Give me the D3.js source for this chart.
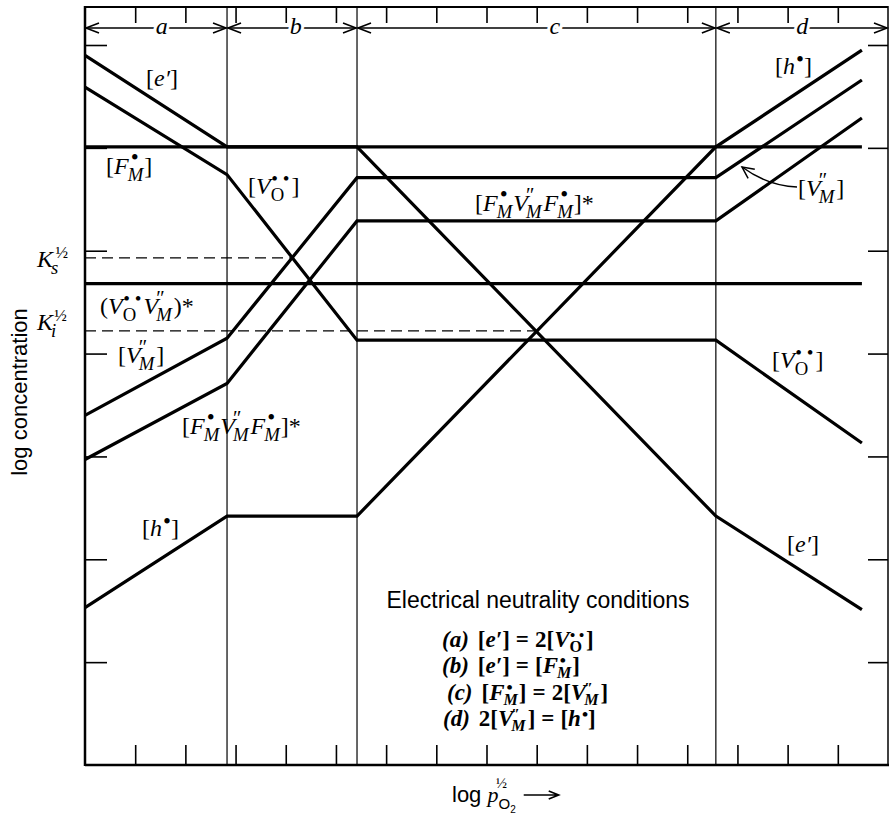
<!DOCTYPE html>
<html>
<head>
<meta charset="utf-8">
<script src="https://cdn.jsdelivr.net/npm/d3@7"></script>
<style>
  body { margin: 0; background: #fff; }
  svg { display: block; }
</style>
</head>
<body>
<svg id="chart" width="890" height="822"></svg>
<script>
// Defect concentrations versus oxygen partial pressure (Brouwer-style diagram)

// axis ticks (log units)
const xTicks = [1, 2, 3, 4, 5, 6, 7, 8, 9, 10, 11, 12, 13, 14, 15];
const yTicks = [1, 2, 3, 4, 5, 6, 7];

// neutrality regions along log pO2^1/2
const regionEdges = [0, 2.83, 5.42, 12.57, 16];
const regionNames = ["a", "b", "c", "d"];
const regionLabelX = [1.53, 4.2, 9.36, 14.29];

// break points of every species line, and its log concentration there
const xKnots = [0, 2.83, 5.42, 12.57, 15.48];
const electrons = [6.90, 6.01, 6.01, 2.42, 1.51];
const oxygenVac = [6.59, 5.74, 4.13, 4.13, 3.13];
const metalVac = [3.40, 4.15, 5.71, 5.71, 6.66];
const triplet = [2.97, 3.71, 5.29, 5.29, 6.29];
const holes = [1.53, 2.42, 2.42, 6.01, 6.95];
const donors = [6.01, 6.01, 6.01, 6.01, 6.01];
const vacPair = [4.68, 4.68, 4.68, 4.68, 4.68];

// equilibrium-constant reference levels (dashed)
const ksLevel = 4.93, ksEnd = 4.08;
const kiLevel = 4.22, kiEnd = 9.0;

const serif = "'Liberation Serif','Times New Roman',serif";
const sans = "'Liberation Sans',Arial,sans-serif";

const svg = d3.select("#chart");
const L = 85, R = 888, T = 7, B = 765;

const x = d3.scaleLinear().domain([0, 16]).range([L, R]);
const y = d3.scaleLinear().domain([0, 7]).range([B, 45]);

// frame
svg.append("line").attr("x1", L).attr("x2", R).attr("y1", T).attr("y2", T)
  .attr("stroke", "#000").attr("stroke-width", 2);
svg.append("line").attr("x1", L).attr("x2", R + 1).attr("y1", B).attr("y2", B)
  .attr("stroke", "#000").attr("stroke-width", 2.5);
svg.append("line").attr("x1", L).attr("x2", L).attr("y1", T - 1).attr("y2", B + 1)
  .attr("stroke", "#000").attr("stroke-width", 2.5);
svg.append("line").attr("x1", R).attr("x2", R).attr("y1", T - 1).attr("y2", B + 1)
  .attr("stroke", "#000").attr("stroke-width", 1.5);

// inward ticks on all four sides
function ticks(axis, tf) {
  const g = svg.append("g").attr("transform", tf).call(axis);
  g.select(".domain").remove();
  g.selectAll(".tick line").attr("stroke", "#000").attr("stroke-width", 1.6);
  g.selectAll(".tick text").remove();
}
ticks(d3.axisTop(x).tickValues(xTicks).tickSize(-16).tickSizeOuter(0), `translate(0,${T})`);
ticks(d3.axisBottom(x).tickValues(xTicks).tickSize(-20).tickSizeOuter(0), `translate(0,${B})`);
ticks(d3.axisLeft(y).tickValues(yTicks).tickSize(-22).tickSizeOuter(0), `translate(${L},0)`);
ticks(d3.axisRight(y).tickValues(yTicks).tickSize(-20).tickSizeOuter(0), `translate(${R},0)`);

// region dividers
svg.selectAll("line.div").data(regionEdges.slice(1, -1)).join("line")
  .attr("class", "div")
  .attr("x1", d => x(d)).attr("x2", d => x(d)).attr("y1", T).attr("y2", B)
  .attr("stroke", "#000").attr("stroke-width", 1.2);

// region arrows along the top
const ay = 28;
function head(px, dir) {
  return `M${px - dir * 13},${ay - 5}L${px},${ay}L${px - dir * 13},${ay + 5}`;
}
regionNames.forEach((n, i) => {
  const x0 = x(regionEdges[i]) + 1, x1 = x(regionEdges[i + 1]) - 1;
  svg.append("line").attr("x1", x0).attr("x2", x1).attr("y1", ay).attr("y2", ay)
    .attr("stroke", "#000").attr("stroke-width", 1.3);
  svg.append("path").attr("d", head(x0, -1) + head(x1, 1))
    .attr("fill", "none").attr("stroke", "#000").attr("stroke-width", 1.6);
  svg.append("text").attr("x", x(regionLabelX[i])).attr("y", 34)
    .attr("text-anchor", "middle").attr("font-family", serif)
    .attr("font-style", "italic").attr("font-size", 24)
    .attr("stroke", "#fff").attr("stroke-width", 6).attr("paint-order", "stroke")
    .text(n);
});

// dashed reference levels
[[ksLevel, ksEnd], [kiLevel, kiEnd]].forEach(([lv, end]) => {
  svg.append("line").attr("x1", x(0)).attr("x2", x(end))
    .attr("y1", y(lv)).attr("y2", y(lv))
    .attr("stroke", "#000").attr("stroke-width", 1.3)
    .attr("stroke-dasharray", "11,6");
});

// species lines
const line = d3.line().x((d, i) => x(xKnots[i])).y(d => y(d));
[electrons, oxygenVac, metalVac, triplet, holes, donors, vacPair].forEach(s => {
  svg.append("path").attr("d", line(s)).attr("fill", "none")
    .attr("stroke", "#000").attr("stroke-width", 3.2)
    .attr("stroke-linejoin", "miter");
});

// text with italics, superscripts, gaps and stacked sub/superscripts
function rich(gx, gy, parts, size, opts = {}) {
  const subShift = opts.subShift || 0.3, supShift = opts.supShift || 0.36;
  const subScale = opts.subScale || 0.78;
  const t = svg.append("text").attr("x", gx).attr("y", gy)
    .attr("font-family", serif).attr("font-size", size)
    .attr("text-anchor", opts.anchor || "start")
    .attr("font-weight", opts.weight || "normal").attr("fill", "#000");
  let cur = 0, pend = 0;
  const add = (txt, o) => {
    const s = o.shift || 0;
    const ts = t.append("tspan").text(txt)
      .attr("font-style", o.it ? "italic" : "normal")
      .attr("font-size", size * (o.scale || 1))
      .attr("dy", s - cur)
      .attr("dx", (o.dx || 0) + pend);
    pend = 0; cur = s;
    return ts;
  };
  parts.forEach(p => {
    if (typeof p === "string") add(p, {});
    else if (p.gap !== undefined) pend += p.gap;
    else if (p.i) add(p.i, { it: true });
    else if (p.sup) add(p.sup, { shift: -size * 0.28, scale: 0.95 * (opts.supMul || 1), dx: 1 });
    else if (p.stack) {
      const [sup, sub, subIt, off] = p.stack;
      const a = add(sub, { it: subIt, shift: size * subShift, scale: subScale, dx: p.dx || 0 });
      const w = a.node().getComputedTextLength();
      const b = add(sup, {
        shift: -size * supShift, scale: (p.supScale || 0.85) * (opts.supMul || 1),
        dx: -w + w * off
      });
      const ws = b.node().getComputedTextLength();
      pend = Math.max(0, w - w * off - ws) + (p.after || 1);
    }
  });
  return t;
}

const FM = { stack: ["•", "M", true, 0.2], dx: -1, supScale: 0.95 };
const VMs = { stack: ["″", "M", true, 0.0], dx: -2, after: 2 };
const VOs = { stack: ["• •", "O", false, 0.05], dx: 0, supScale: 0.8, after: 2 };

// line labels
const LS = 24;
rich(146, 86, ["[", { i: "e′" }, "]"], LS);
rich(106, 174, ["[", { i: "F" }, FM, "]"], LS);
rich(248, 194, ["[", { i: "V" }, VOs, "]"], LS);
rich(475, 211, ["[", { i: "F" }, FM, { i: "V" }, VMs, { i: "F" }, FM, "]*"], LS);
rich(798, 196, ["[", { i: "V" }, VMs, "]"], LS);
rich(100, 314, ["(", { i: "V" }, VOs, { i: "V" }, VMs, ")*"], LS);
rich(118, 363, ["[", { i: "V" }, VMs, "]"], LS);
rich(182, 434, ["[", { i: "F" }, FM, { i: "V" }, VMs, { i: "F" }, FM, "]*"], LS);
rich(142, 536, ["[", { i: "h" }, { sup: "•" }, "]"], LS);
rich(775, 74, ["[", { i: "h" }, { sup: "•" }, "]"], LS);
rich(772, 368, ["[", { i: "V" }, VOs, "]"], LS);
rich(787, 552, ["[", { i: "e′" }, "]"], LS);

// equilibrium constants on the left
rich(37, 267, [{ i: "K" }, { stack: ["½", "s", true, 0.6], dx: -2, supScale: 0.7 }], 24);
rich(37, 330, [{ i: "K" }, { stack: ["½", "i", true, 0.6], dx: -2, supScale: 0.7 }], 24);

// pointer from the right-hand [V″M] label to its line
const ptr = d3.path();
ptr.moveTo(797, 187); ptr.quadraticCurveTo(768, 186, 742, 167);
svg.append("path").attr("d", ptr.toString()).attr("fill", "none")
  .attr("stroke", "#000").attr("stroke-width", 1.5);
(() => {
  const ang = Math.atan2(167 - 186, 742 - 768);
  const hd = [0.45, -0.45].map(da => [742 - 13 * Math.cos(ang + da), 167 - 13 * Math.sin(ang + da)]);
  svg.append("path").attr("d", `M${hd[0]}L742,167L${hd[1]}`)
    .attr("fill", "none").attr("stroke", "#000").attr("stroke-width", 1.5);
})();

// neutrality conditions
svg.append("text").attr("x", 538).attr("y", 608).attr("text-anchor", "middle")
  .attr("font-family", sans).attr("font-size", 23).text("Electrical neutrality conditions");
const g1 = { gap: 9 }, g2 = { gap: 6 };
const cond = [
  [442, 647, [{ i: "(a)" }, g1, "[", { i: "e′" }, "]", g2, "=", g2, "2[", { i: "V" }, VOs, "]"]],
  [442, 673, [{ i: "(b)" }, g1, "[", { i: "e′" }, "]", g2, "=", g2, "[", { i: "F" }, FM, "]"]],
  [447, 700, [{ i: "(c)" }, g1, "[", { i: "F" }, FM, "]", g2, "=", g2, "2[", { i: "V" }, VMs, "]"]],
  [443, 726, [{ i: "(d)" }, g1, "2[", { i: "V" }, VMs, "]", g2, "=", g2, "[", { i: "h" }, { sup: "•" }, "]"]]
];
cond.forEach(([cx, cy, p]) => rich(cx, cy, p, 23, {
  weight: "bold", subShift: 0.2, supShift: 0.3, subScale: 0.7, supMul: 0.8
}));

// axis titles
svg.append("text").attr("transform", "translate(27,392) rotate(-90)")
  .attr("text-anchor", "middle").attr("font-family", sans).attr("font-size", 22)
  .text("log concentration");

const xt = svg.append("text").attr("x", 452).attr("y", 802)
  .attr("font-family", sans).attr("font-size", 22);
xt.append("tspan").text("log ");
xt.append("tspan").attr("font-family", serif).attr("font-style", "italic").text("p");
xt.append("tspan").attr("font-size", 15).attr("dy", 7).text("O");
xt.append("tspan").attr("font-size", 10).attr("dy", 4).text("2");
const w2 = xt.node().getComputedTextLength();
xt.append("tspan").attr("font-family", serif).attr("font-size", 15)
  .attr("dx", -20).attr("dy", -25).text("½");
const xe = 452 + w2 + 8;
svg.append("path").attr("d", `M${xe},795H${xe + 34}M${xe + 25},791L${xe + 35},795L${xe + 25},799`)
  .attr("fill", "none").attr("stroke", "#000").attr("stroke-width", 1.6);
</script>
</body>
</html>
